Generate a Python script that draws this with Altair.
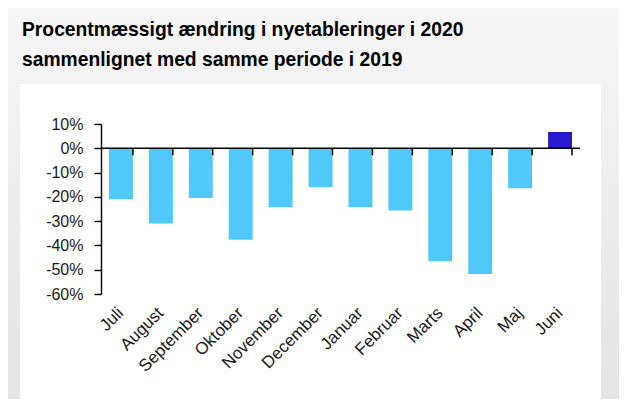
import altair as alt
import pandas as pd

title_lines = ["Procentmæssigt ændring i nyetableringer i 2020",
               "sammenlignet med samme periode i 2019"]
months = ["Juli", "August", "September", "Oktober", "November", "December",
          "Januar", "Februar", "Marts", "April", "Maj", "Juni"]
values = [-21.0, -31.0, -20.5, -37.7, -24.3, -16.0,
          -24.3, -25.6, -46.5, -51.8, -16.5, 6.7]
y_ticks = [10, 0, -10, -20, -30, -40, -50, -60]

LIGHT = "#50C9FA"
DARK = "#2A1ACE"
W, H = 479, 170
PL, PT, PR, PB = 93, 116, 39, 105

df = pd.DataFrame({"month": months, "value": values})
one = pd.DataFrame({"k": [0]})

xs = alt.Scale(domain=months, paddingInner=0.4, paddingOuter=0.2)
ys = alt.Scale(domain=[-60, 10], nice=False)

x_axis = alt.Axis(orient="bottom", domain=False, ticks=False, labelAngle=-45,
                  labelAlign="right", labelBaseline="middle", labelPadding=16,
                  labelFont="Liberation Sans", labelFontSize=17,
                  labelColor="#1a1a1a", labelOverlap=False, zindex=1)
y_axis = alt.Axis(values=y_ticks, labelExpr="datum.value + '%'", grid=False,
                  domainColor="black", domainWidth=1.4, tickColor="black",
                  tickWidth=1.4, tickSize=7, labelPadding=11,
                  labelFont="Liberation Sans", labelFontSize=16,
                  labelColor="#1a1a1a", labelOverlap=False, zindex=1)

bg = alt.Chart(one).mark_rect(
    fill=alt.Gradient(gradient="linear",
                      stops=[alt.GradientStop(color="#f6f6f6", offset=0),
                             alt.GradientStop(color="#e4e4e4", offset=1)],
                      x1=0, x2=0, y1=0, y2=1)
).encode(x=alt.value(-PL), x2=alt.value(W + PR), y=alt.value(-PT), y2=alt.value(H + PB))

panel = alt.Chart(one).mark_rect(fill="white").encode(
    x=alt.value(-81), x2=alt.value(W + 21), y=alt.value(-40), y2=alt.value(H + 106))

bars = alt.Chart(df).mark_bar().encode(
    x=alt.X("month:N", scale=xs, sort=months, title=None, axis=x_axis),
    y=alt.Y("value:Q", scale=ys, title=None, axis=y_axis),
    color=alt.condition(alt.datum.value > 0, alt.value(DARK), alt.value(LIGHT)),
)

zero = alt.Chart(one).mark_rule(color="black", strokeWidth=1.5).encode(
    y=alt.Y(datum=0, scale=ys, title=None, axis=y_axis))

ticks = alt.Chart(df).mark_rule(color="black", strokeWidth=1.5).encode(
    x=alt.X("month:N", scale=xs, sort=months, bandPosition=1, title=None, axis=x_axis),
    y=alt.Y(datum=0, scale=ys, title=None, axis=y_axis), y2=alt.datum(-2.9))

chart = alt.layer(bg, panel, bars, zero, ticks).properties(
    width=W, height=H,
    autosize=alt.AutoSizeParams(type="none"),
    padding={"left": PL, "top": PT, "right": PR, "bottom": PB},
    background="#ececec",
    title=alt.TitleParams(title_lines, anchor="start", frame="group", dx=-79,
                          offset=-62, font="Liberation Sans", fontSize=19.3,
                          fontWeight="bold", color="#000000", lineHeight=30, zindex=1),
).configure_view(stroke=None)

chart.save("out.html", embed_options={"renderer": "svg", "actions": False})
